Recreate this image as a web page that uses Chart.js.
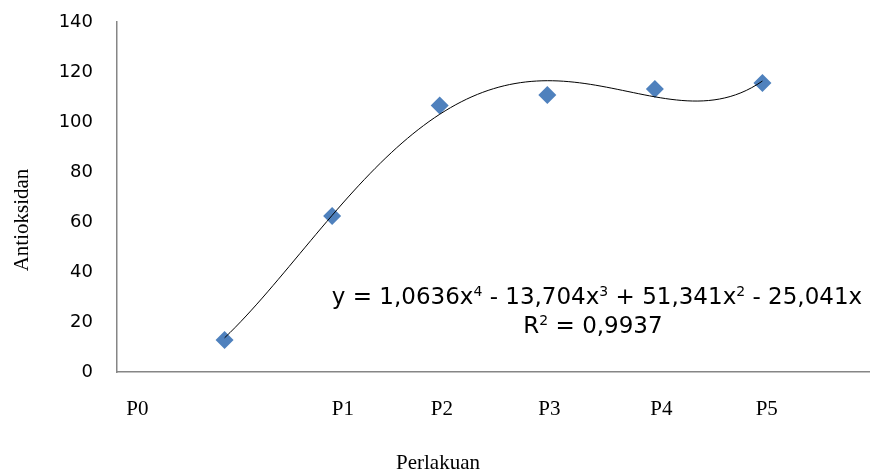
<!DOCTYPE html>
<html lang="id">
<head>
  <meta charset="UTF-8" />
  <title>Antioksidan vs Perlakuan</title>
  <style>
    body { margin: 0; background: #ffffff; }
    #wrap { width: 870px; height: 473px; }
  </style>
</head>
<body>
  <div id="wrap"><canvas id="chart"></canvas></div>

  <script src="https://cdn.jsdelivr.net/npm/chart.js"></script>
  <script>
    // data
    const xValues = [1, 2, 3, 4, 5, 6];
    const antioksidan = [12.8, 62.4, 106.6, 110.8, 113.2, 115.6];

    // treatment labels and where they sit on the x scale
    const perlakuanLabels = ["P0", "P1", "P2", "P3", "P4", "P5"];
    const perlakuanPos = [0.19, 2.1, 3.02, 4.02, 5.06, 6.04];

    // polynomial trendline shown on the chart: c4 x^4 + c3 x^3 + c2 x^2 + c1 x
    const trendCoef = [1.0636, -13.704, 51.341, -25.041];
    const equationParts = [
      ["y = 1,0636x", "4"], [" - 13,704x", "3"], [" + 51,341x", "2"], [" - 25,041x", ""]
    ];
    const r2Parts = [["R", "2"], [" = 0,9937", ""]];

    const points = xValues.map((x, i) => ({ x: x, y: antioksidan[i] }));

    const trend = [];
    for (let x = 1; x <= 6.0001; x += 0.05) {
      const y = trendCoef[0] * x ** 4 + trendCoef[1] * x ** 3 + trendCoef[2] * x ** 2 + trendCoef[3] * x;
      trend.push({ x: x, y: y });
    }

    function drawSup(ctx, parts, cx, cy, size, font) {
      const supSize = Math.round(size * 0.62);
      let total = 0;
      parts.forEach(p => {
        ctx.font = size + "px " + font;
        total += ctx.measureText(p[0]).width;
        if (p[1]) {
          ctx.font = supSize + "px " + font;
          total += ctx.measureText(p[1]).width;
        }
      });
      let x = cx - total / 2;
      ctx.textAlign = "left";
      ctx.textBaseline = "alphabetic";
      parts.forEach(p => {
        ctx.font = size + "px " + font;
        ctx.fillText(p[0], x, cy);
        x += ctx.measureText(p[0]).width;
        if (p[1]) {
          ctx.font = supSize + "px " + font;
          ctx.fillText(p[1], x, cy - size * 0.36);
          x += ctx.measureText(p[1]).width;
        }
      });
    }

    const textPlugin = {
      id: "texts",
      afterDraw(chart) {
        const ctx = chart.ctx;
        const xs = chart.scales.x;
        const area = chart.chartArea;
        ctx.save();
        ctx.fillStyle = "#000000";

        // P labels under the axis
        ctx.font = "21px 'Liberation Serif', serif";
        ctx.textAlign = "center";
        ctx.textBaseline = "middle";
        perlakuanLabels.forEach((lab, i) => {
          ctx.fillText(lab, xs.getPixelForValue(perlakuanPos[i]), area.bottom + 37);
        });

        // axis titles
        ctx.fillText("Perlakuan", 438, 463);
        ctx.save();
        ctx.translate(22, 220);
        ctx.rotate(-Math.PI / 2);
        ctx.fillText("Antioksidan", 0, 0);
        ctx.restore();

        // trendline equation
        drawSup(ctx, equationParts, 597, 304, 23, "'DejaVu Sans', sans-serif");
        drawSup(ctx, r2Parts, 593, 333, 23, "'DejaVu Sans', sans-serif");
        ctx.restore();
      }
    };

    new Chart(document.getElementById("chart"), {
      type: "scatter",
      data: {
        datasets: [
          {
            label: "Trendline",
            data: trend,
            showLine: true,
            borderColor: "#000000",
            borderWidth: 1,
            pointRadius: 0,
            tension: 0
          },
          {
            label: "Antioksidan",
            data: points,
            pointStyle: "rectRot",
            pointRadius: 9,
            backgroundColor: "#4F81BD",
            borderColor: "#4F81BD",
            borderWidth: 0
          }
        ]
      },
      options: {
        responsive: true,
        maintainAspectRatio: false,
        animation: false,
        layout: { autoPadding: false, padding: { top: 22, right: 0, left: 0, bottom: 0 } },
        plugins: {
          legend: { display: false },
          tooltip: { enabled: false }
        },
        scales: {
          x: {
            type: "linear",
            min: 0,
            max: 7,
            grid: { display: false },
            border: { color: "#868686", width: 1.5 },
            ticks: { display: false },
            afterFit(scale) { scale.height = 101; }
          },
          y: {
            min: 0,
            max: 140,
            grid: {
              display: true,
              drawOnChartArea: false,
              drawTicks: true,
              tickLength: 24,
              tickColor: "rgba(0,0,0,0)"
            },
            border: { color: "#868686", width: 1.5 },
            ticks: {
              stepSize: 20,
              padding: 0,
              color: "#000000",
              font: { family: "'DejaVu Sans', sans-serif", size: 18 }
            },
            afterFit(scale) { scale.width = 117; }
          }
        }
      },
      plugins: [textPlugin]
    });
  </script>
</body>
</html>
